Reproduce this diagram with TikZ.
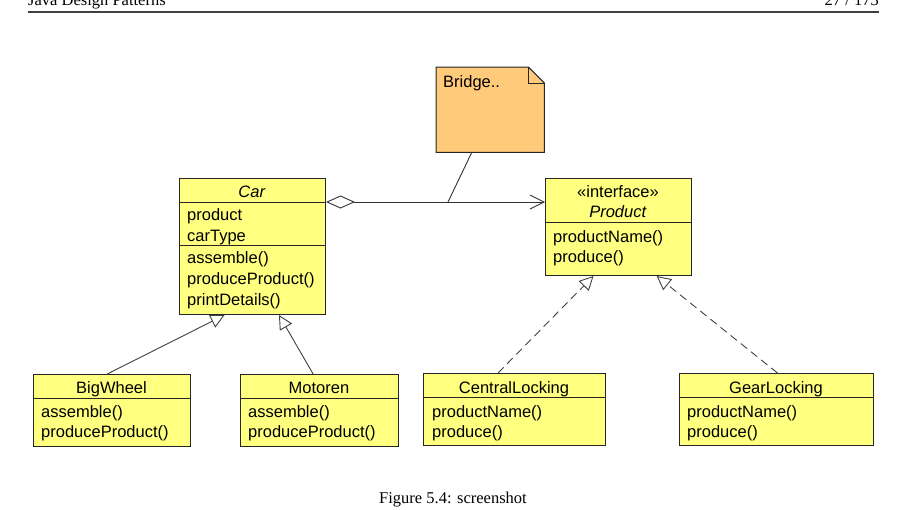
\documentclass[tikz,border=0pt]{standalone}
\usepackage{fontspec}
\setmainfont{Liberation Sans}
\newfontfamily\pagefont{Liberation Serif}
\usetikzlibrary{arrows.meta,calc}

\definecolor{umlYellow}{RGB}{255,255,128}
\definecolor{noteOrange}{RGB}{255,202,122}

\begin{document}
\begin{tikzpicture}[
    x=1pt, y=-1pt, every node/.style={font=\fontsize{16.5}{20}\selectfont, inner sep=0pt},
    cBox/.style={rectangle, draw=black!85, fill=umlYellow, line width=1pt, anchor=north west},
    nBox/.style={draw=black!85, fill=noteOrange, line width=1pt},
    sep/.style={draw=black!85, line width=1pt},
    txt/.style={anchor=base west},
    ttl/.style={anchor=base},
    pageTxt/.style={font=\pagefont\fontsize{16.5}{20}\selectfont},
    inherit/.style={draw=black!75, line width=0.9pt, -{Triangle[length=14pt, width=14pt, fill=white]}},
    realize/.style={inherit, dash pattern=on 8pt off 5pt},
    assoc/.style={draw=black!80, line width=0.9pt, {Diamond[length=29pt, width=13pt, fill=white]}-{Straight Barb[length=14pt, width=14pt]}}
]
    \useasboundingbox (0,0) rectangle (916,509);

    % page header and caption
    \node[pageTxt, anchor=base west] (hdLeft) at (28,5) {Java Design Patterns};
    \node[pageTxt, anchor=base east] (hdRight) at (879,5) {27 / 173};
    \draw[black!75, line width=1.3pt] (28,12) -- (879,12);
    \node[pageTxt, anchor=base] (caption) at (453,503) {Figure 5.4: screenshot};

    % note
    \node[minimum width=108, minimum height=85, anchor=north west] (note) at (436,67) {};
    \draw[nBox] (note.north west) -- ($(note.north east)+(-16,0)$) -- ($(note.north east)+(0,16)$) -- (note.south east) -- (note.south west) -- cycle;
    \draw[sep] ($(note.north east)+(-16,0)$) -- ($(note.north east)+(-16,16)$) -- ($(note.north east)+(0,16)$);
    \node[txt] (noteText) at (443,87) {Bridge..};

    % Car
    \node[cBox, minimum width=146, minimum height=136] (car) at (179,178) {};
    \draw[sep] (car.west |- 0,202) -- (car.east |- 0,202);
    \draw[sep] (car.west |- 0,245) -- (car.east |- 0,245);
    \node[ttl] (carName) at (252,197) {\textit{Car}};
    \node[txt] (carA1) at (187,220) {product};
    \node[txt] (carA2) at (187,241) {carType};
    \node[txt] (carM1) at (187,263) {assemble()};
    \node[txt] (carM2) at (187,284) {produceProduct()};
    \node[txt] (carM3) at (187,305) {printDetails()};

    % Product
    \node[cBox, minimum width=146, minimum height=97] (prod) at (545,178) {};
    \draw[sep] (prod.west |- 0,222) -- (prod.east |- 0,222);
    \node[ttl] (prodSt) at (618,197) {«interface»};
    \node[ttl] (prodName) at (618,217) {\textit{Product}};
    \node[txt] (prodM1) at (553,242) {productName()};
    \node[txt] (prodM2) at (553,262) {produce()};

    % BigWheel
    \node[cBox, minimum width=157, minimum height=72] (big) at (33,374) {};
    \draw[sep] (big.west |- 0,398) -- (big.east |- 0,398);
    \node[ttl] (bigName) at (111.5,393) {BigWheel};
    \node[txt] (bigM1) at (41,417) {assemble()};
    \node[txt] (bigM2) at (41,437) {produceProduct()};

    % Motoren
    \node[cBox, minimum width=158, minimum height=72] (mot) at (240,374) {};
    \draw[sep] (mot.west |- 0,398) -- (mot.east |- 0,398);
    \node[ttl] (motName) at (319,393) {Motoren};
    \node[txt] (motM1) at (248,417) {assemble()};
    \node[txt] (motM2) at (248,437) {produceProduct()};

    % CentralLocking
    \node[cBox, minimum width=182, minimum height=72] (central) at (423,373) {};
    \draw[sep] (central.west |- 0,397) -- (central.east |- 0,397);
    \node[ttl] (centralName) at (514,393) {CentralLocking};
    \node[txt] (centralM1) at (432,417) {productName()};
    \node[txt] (centralM2) at (432,437) {produce()};

    % GearLocking
    \node[cBox, minimum width=194, minimum height=72] (gear) at (679,373) {};
    \draw[sep] (gear.west |- 0,397) -- (gear.east |- 0,397);
    \node[ttl] (gearName) at (776,393) {GearLocking};
    \node[txt] (gearM1) at (687,417) {productName()};
    \node[txt] (gearM2) at (687,437) {produce()};

    % connectors
    \coordinate (noteFoot) at (448,202);
    \draw[assoc] (car.east |- 0,202) -- (prod.west |- 0,202);
    \draw[draw=black!80, line width=0.9pt] ($(note.south west)!0.33!(note.south east)$) -- (noteFoot);

    \draw[inherit] ($(big.north west)!0.47!(big.north east)$) -- ($(car.south west)!0.31!(car.south east)$);
    \draw[inherit] ($(mot.north west)!0.46!(mot.north east)$) -- ($(car.south west)!0.68!(car.south east)$);

    \draw[realize] ($(central.north west)!0.41!(central.north east)$) -- ($(prod.south west)!0.33!(prod.south east)$);
    \draw[realize] ($(gear.north west)!0.505!(gear.north east)$) -- ($(prod.south west)!0.76!(prod.south east)$);
\end{tikzpicture}
\end{document}
